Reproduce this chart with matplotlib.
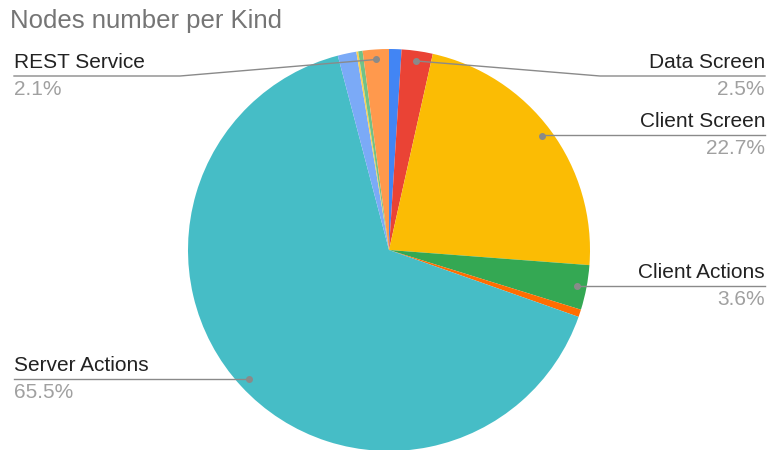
import numpy as np
import matplotlib.pyplot as plt

plt.rcParams['font.family'] = ['Liberation Sans', 'DejaVu Sans']

# slices, clockwise from 12 o'clock
kinds = ["Blue Kind", "Data Screen", "Client Screen", "Client Actions", "Orange Kind",
         "Server Actions", "Light Blue Kind", "Yellow Kind", "Green Kind", "REST Service"]
shares = [1.0, 2.5, 22.7, 3.6, 0.6, 65.5, 1.5, 0.15, 0.35, 2.1]
colors = ["#4285f4", "#ea4335", "#fbbc04", "#34a853", "#ff6d01",
          "#46bdc6", "#7baaf7", "#fcd04f", "#71c287", "#ff994d"]
# which slices get a label: (kind, label line y in px, side)
shown = {"Data Screen": (76, "right"), "Client Screen": (135, "right"),
         "Client Actions": (286, "right"), "Server Actions": (379, "left"),
         "REST Service": (76, "left")}

W, H = 768, 450
fig = plt.figure(figsize=(7.68, 4.5), dpi=100)
ax = fig.add_axes([0, 0, 1, 1])
cx, cy, R = 389, H - 250, 201

ax.pie(shares, colors=colors, startangle=90, counterclock=False,
       center=(cx, cy), radius=R, wedgeprops=dict(linewidth=0))
ax.set_xlim(0, W)
ax.set_ylim(0, H)
ax.set_aspect('equal')
ax.axis('off')

line_c = "#8a8a8a"
cum = np.cumsum([0] + shares[:-1])
for k, s, c0 in zip(kinds, shares, cum):
    if k not in shown:
        continue
    ly, side = shown[k]
    ly = H - ly
    mid = np.deg2rad((c0 + s / 2) / 100 * 360)
    px = cx + 0.95 * R * np.sin(mid)
    py = cy + 0.95 * R * np.cos(mid)
    if side == "right":
        xend, ha = 765, "right"
        elbow = max(px, 600) if abs(py - ly) > 2 else px
    else:
        xend, ha = 14, "left"
        elbow = min(px, 180) if abs(py - ly) > 2 else px
    ax.plot([px, elbow, xend], [py, ly, ly], color=line_c, lw=1, zorder=3)
    ax.plot(px, py, 'o', color=line_c, ms=4, zorder=4)
    ax.text(xend, ly + 8, k, ha=ha, va="baseline", fontsize=15, color="#222222")
    ax.text(xend, ly - 4, f"{s:.1f}%", ha=ha, va="top", fontsize=15, color="#a0a0a0")

ax.text(10, H - 28, "Nodes number per Kind", ha="left", va="baseline",
        fontsize=18.5, color="#757575")

fig.savefig("out.png", dpi=100)
